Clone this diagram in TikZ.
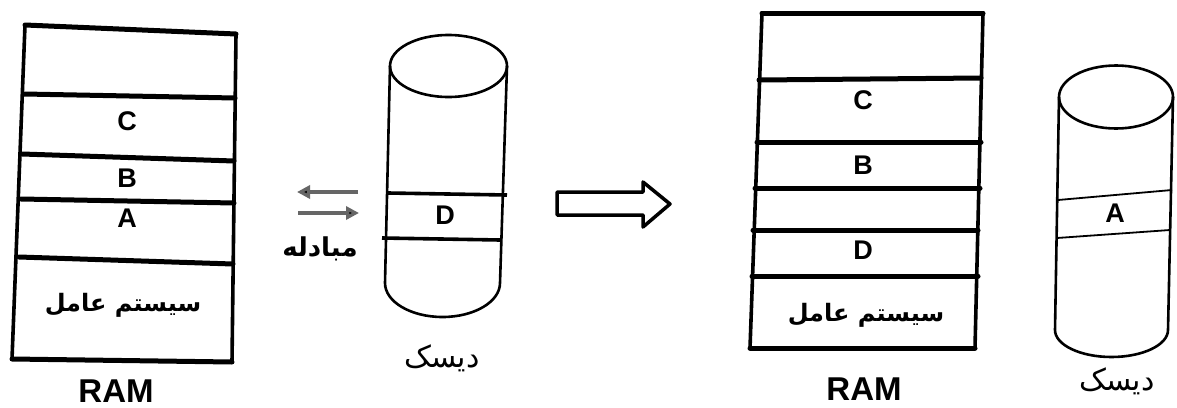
\documentclass[tikz,border=0pt]{standalone}
\usepackage{fontspec}
\setmainfont{Liberation Sans}
\newfontfamily\arabicfont[Script=Arabic]{DejaVu Sans}
\TeXXeTstate=1
\usetikzlibrary{arrows.meta}
\begin{document}
\begin{tikzpicture}[x=1pt,y=-1pt,
  ramline/.style={line width=5pt,line cap=round},
  ramside/.style={line width=3.6pt,line cap=round},
  diskline/.style={line width=2.6pt},
  bandline/.style={line width=3.6pt},
  thinband/.style={line width=1.8pt},
  letter/.style={font=\bfseries\fontsize{27}{27}\selectfont,inner sep=0pt},
  ramlab/.style={font=\bfseries\fontsize{33}{33}\selectfont,inner sep=0pt},
  ostext/.style={font=\arabicfont\bfseries\fontsize{24}{24}\selectfont,inner sep=0pt},
  disktext/.style={font=\arabicfont\fontsize{30}{30}\selectfont,inner sep=0pt},
  swaptext/.style={font=\arabicfont\bfseries\fontsize{26}{26}\selectfont,inner sep=0pt},
  swaparrow/.style={line width=3.5pt,draw=black!60,-{Triangle[length=13pt,width=13pt,fill=black]}}
]
\useasboundingbox (0,0) rectangle (1177,407);
\fill[white] (0,0) rectangle (1177,407);

% ---------- left RAM ----------
\coordinate (l1a) at (25,25);  \coordinate (l1b) at (236,34);
\coordinate (l2a) at (24,94);  \coordinate (l2b) at (235,98);
\coordinate (l3a) at (22,154); \coordinate (l3b) at (234,161);
\coordinate (l4a) at (21,199); \coordinate (l4b) at (234,203);
\coordinate (l5a) at (19,257); \coordinate (l5b) at (233,264);
\coordinate (l6a) at (12,359); \coordinate (l6b) at (232,362);
\draw[ramside] (l1a) -- (l6a);
\draw[ramside] (l1b) -- (l6b);
\foreach \n in {1,...,6} \draw[ramline] (l\n a) -- (l\n b);
\node[letter] (lc) at (127,121) {C};
\node[letter] (lb) at (127,178) {B};
\node[letter] (la) at (127,218) {A};
\node[ostext] (los) at (123,305) {\beginR سیستم عامل\endR};
\node[ramlab] (lram) at (116,391) {RAM};

% ---------- disk 1 ----------
\draw[diskline] (448.5,66) ellipse [x radius=58.5, y radius=31];
\draw[diskline] (390,66) -- (385,283)
  arc[start angle=180, end angle=0, x radius=57.5, y radius=34] -- (507,66);
\draw[bandline] (388,193) -- (507,195);
\draw[bandline] (382,238) -- (500,240);
\node[letter] (dd) at (445,215) {D};
\node[disktext] (d1lab) at (442,358) {\beginR دیسک\endR};

% swap arrows
\coordinate (s1t) at (358,192); \coordinate (s1h) at (297,192);
\coordinate (s2t) at (298,213); \coordinate (s2h) at (359,213);
\draw[swaparrow] (s1t) -- (s1h);
\draw[swaparrow] (s2t) -- (s2h);
\node[swaptext] (swap) at (320,249) {\beginR مبادله\endR};

% ---------- hollow arrow ----------
\draw[line width=3.5pt,line join=round] (557,192) -- (643,192) -- (643,182) -- (670,204)
  -- (643,227) -- (643,215) -- (557,215) -- cycle;

% ---------- right RAM ----------
\coordinate (r1a) at (762,13);  \coordinate (r1b) at (983,13);
\coordinate (r2a) at (759,80);  \coordinate (r2b) at (981,78);
\coordinate (r3a) at (757,142); \coordinate (r3b) at (981,142);
\coordinate (r4a) at (755,188); \coordinate (r4b) at (980,188);
\coordinate (r5a) at (753,230); \coordinate (r5b) at (978,230);
\coordinate (r6a) at (752,276); \coordinate (r6b) at (978,276);
\coordinate (r7a) at (750,348); \coordinate (r7b) at (975,348);
\draw[ramside] (r1a) -- (r7a);
\draw[ramside] (r1b) -- (r7b);
\foreach \n in {1,...,7} \draw[ramline] (r\n a) -- (r\n b);
\node[letter] (rc) at (863,100) {C};
\node[letter] (rb) at (863,165) {B};
\node[letter] (rd) at (863,250) {D};
\node[ostext] (ros) at (866,315) {\beginR سیستم عامل\endR};
\node[ramlab] (rram) at (864,389) {RAM};

% ---------- disk 2 ----------
\draw[diskline] (1116,97) ellipse [x radius=57, y radius=31.5];
\draw[diskline] (1059,97) -- (1055,330)
  arc[start angle=180, end angle=0, x radius=56.5, y radius=27] -- (1173,97);
\draw[thinband] (1058,200) -- (1172,190);
\draw[thinband] (1057,238) -- (1170,230);
\node[letter] (da) at (1115,213) {A};
\node[disktext] (d2lab) at (1117,381) {\beginR دیسک\endR};
\end{tikzpicture}
\end{document}
